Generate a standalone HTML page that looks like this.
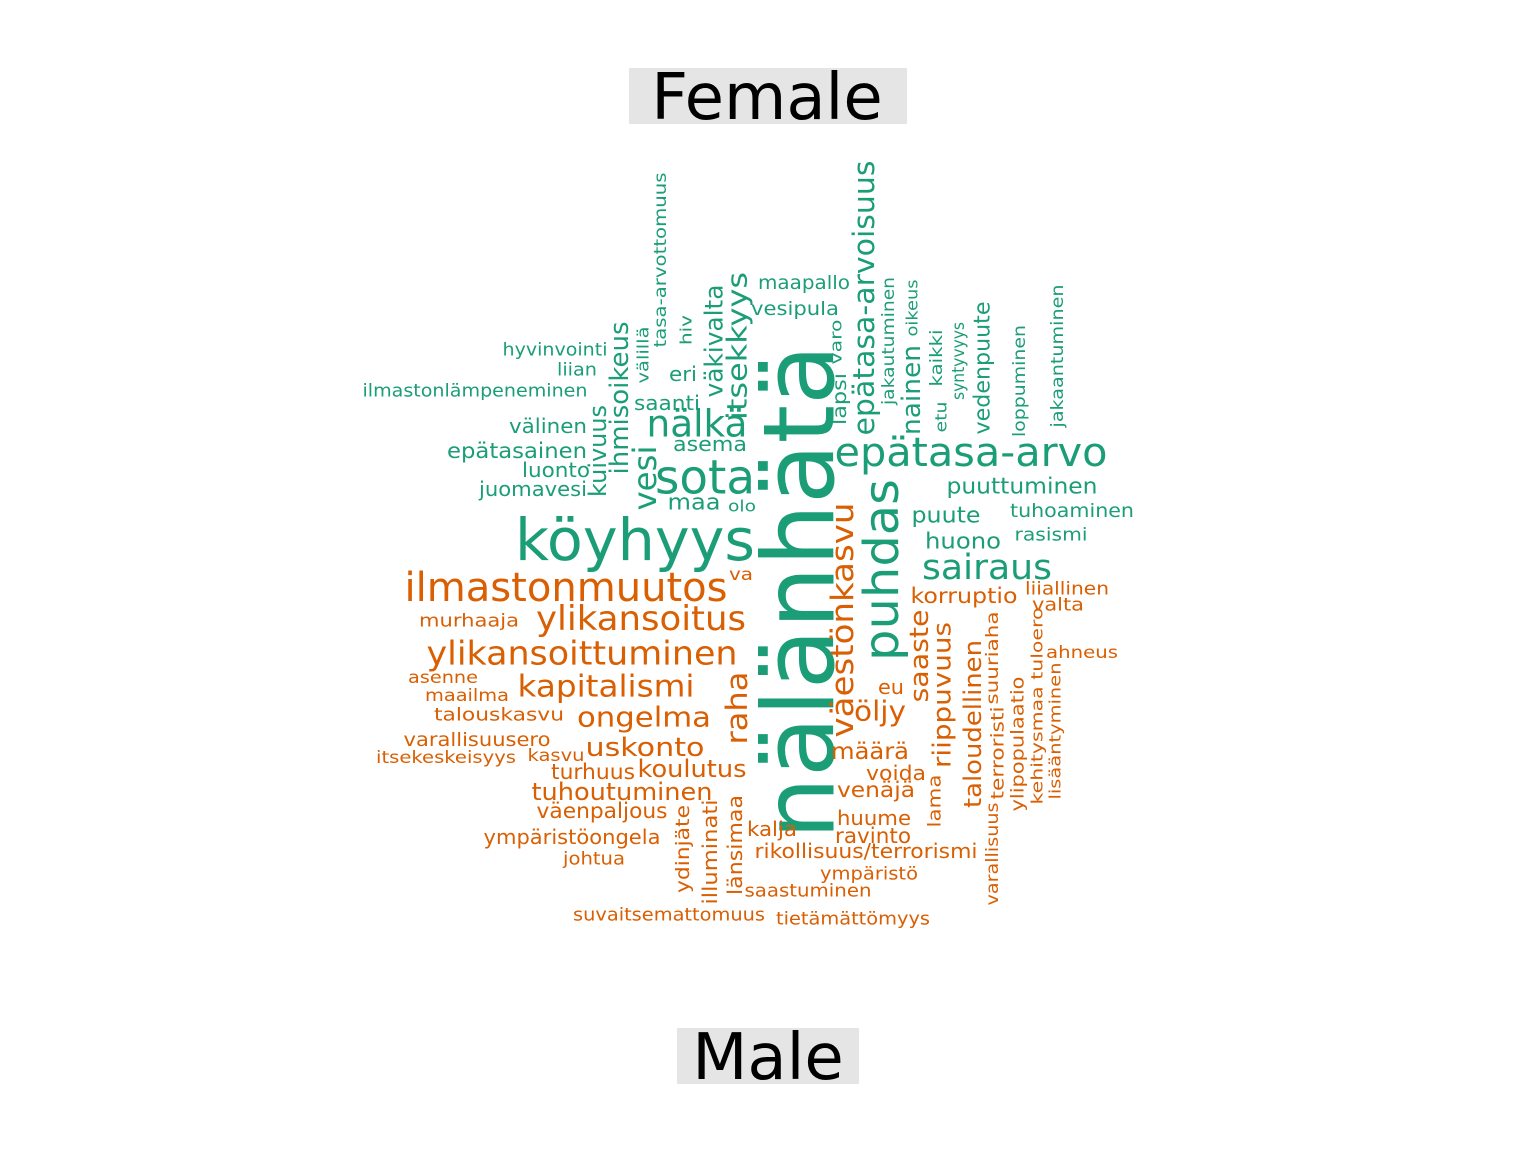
<!DOCTYPE html>
<html><head><meta charset="utf-8"><style>
html,body{margin:0;padding:0;background:#fff;}
svg{display:block;font-family:"DejaVu Sans","Liberation Sans",sans-serif;}
</style></head><body>
<svg id="cloud" width="1536" height="1152" viewBox="0 0 1536 1152" xmlns="http://www.w3.org/2000/svg">
<rect x="629" y="68" width="278" height="56" fill="#e5e5e5"/>
<text x="767" y="119" font-size="64" text-anchor="middle" fill="#000">Female</text>
<rect x="677" y="1028" width="182" height="56" fill="#e5e5e5"/>
<text x="768" y="1079" font-size="64" text-anchor="middle" fill="#000">Male</text>
<g id="words"></g>
</svg>
<script>
const colors = ["#1b9e77", "#d95f02"];
// word, group (0 female, 1 male)
const words = ["nälänhätä","köyhyys","sota","epätasa-arvo","puhdas","nälkä","sairaus","epätasa-arvoisuus","vesi","itsekkyys","ihmisoikeus","kuivuus","väkivalta","nainen","vedenpuute","puuttuminen","puute","huono","tuhoaminen","rasismi","maa","olo","asema","saanti","eri","välinen","epätasainen","luonto","juomavesi","ilmastonlämpeneminen","liian","hyvinvointi","maapallo","vesipula","tasa-arvottomuus","hiv","välillä","varo","lapsi","jakautuminen","oikeus","kaikki","etu","syntyvyys","loppuminen","jakaantuminen",
"ilmastonmuutos","ylikansoitus","ylikansoittuminen","kapitalismi","ongelma","uskonto","koulutus","turhuus","tuhoutuminen","väenpaljous","ympäristöongela","johtua","suvaitsemattomuus","tietämättömyys","saastuminen","ympäristö","rikollisuus/terrorismi","ravinto","huume","kalja","venäjä","voida","määrä","öljy","eu","väestönkasvu","raha","saaste","riippuvuus","taloudellinen","korruptio","liiallinen","valta","ahneus","suuriaha","terroristi","ylipopulaatio","varallisuus","kehitysmaa tuloero","lisääntyminen","lama","länsimaa","illuminati","ydinjäte","va","murhaaja","asenne","maailma","talouskasvu","varallisuusero","kasvu","itsekeskeisyys"];
const groups = [0,0,0,0,0,0,0,0,0,0,0,0,0,0,0,0,0,0,0,0,0,0,0,0,0,0,0,0,0,0,0,0,0,0,0,0,0,0,0,0,0,0,0,0,0,0,
1,1,1,1,1,1,1,1,1,1,1,1,1,1,1,1,1,1,1,1,1,1,1,1,1,1,1,1,1,1,1,1,1,1,1,1,1,1,1,1,1,1,1,1,1,1,1,1,1,1,1,1];
// relative word frequency (font size)
const sizes = [99,58,47,40,48,37,35,29,32,28,26,24,25,26,22,22,22,22,19,18,22,16,20,20,20,20,21,20,20,18,18,18,19,19,17,16,16,16,19,17,16,17,16,17,17,17,
40,34,33,30,28,26,24,21,24,21,20,18,18,18,18,18,20,21,20,20,21,20,23,28,20,31,29,26,25,24,21,18,18,17,17,18,18,17,16,16,18,20,20,19,17,18,17,17,18,19,17,17];
// layout: center x, center y, drawn length, vertical flag
const layoutX = [800,635,705,971,882,697,987,864,645,737,620,598,714,912,983,1022,946,963,1072,1051,694,742,710,667,683,548,517,556,533,475,577,555,804,795,661,686,643,836,840,889,912,937,941,959,1020,1058,
566,641,582,606,644,645,692,593,622,602,572,594,669,853,808,869,866,873,874,772,876,896,870,880,891,843,737,920,942,973,964,1067,1058,1082,993,998,1018,993,1037,1055,935,735,710,683,741,469,443,467,499,477,556,446];
const layoutY = [592,540,478,453,570,424,568,298,478,346,398,451,341,390,368,487,516,542,511,535,503,506,444,403,374,426,451,470,489,391,370,350,283,309,260,330,355,342,399,341,308,358,417,361,381,356,
588,619,653,687,717,748,769,772,792,811,837,859,915,919,891,874,851,836,818,829,790,773,752,711,687,620,708,656,695,724,596,589,605,653,658,753,744,854,706,731,801,845,852,849,575,621,678,696,715,740,756,758];
const lens = [495,240,100,273,182,101,130,275,65,148,153,92,113,90,133,151,69,76,124,73,53,28,74,66,28,78,140,68,108,225,40,105,92,88,175,30,57,45,52,128,57,57,31,78,112,143,
323,210,311,177,134,119,109,84,181,131,177,62,192,154,127,98,223,76,74,50,78,60,78,52,26,235,73,93,146,168,107,84,52,72,93,93,135,103,197,137,53,100,105,88,24,100,70,84,130,147,57,140];
const verts = [1,0,0,0,1,0,0,1,1,1,1,1,1,1,1,0,0,0,0,0,0,0,0,0,0,0,0,0,0,0,0,0,0,0,1,1,1,1,1,1,1,1,1,1,1,1,
0,0,0,0,0,0,0,0,0,0,0,0,0,0,0,0,0,0,0,0,0,0,0,0,0,1,1,1,1,1,0,0,0,0,1,1,1,1,1,1,1,1,1,1,0,0,0,0,0,0,0,0];
const NS = "http://www.w3.org/2000/svg";
const g = document.getElementById("words");
for (let i = 0; i < words.length; i++) {
  const t = document.createElementNS(NS, "text");
  
  
  t.setAttribute("x", layoutX[i]);
  t.setAttribute("y", layoutY[i]);
  t.setAttribute("font-size", sizes[i]);
  t.setAttribute("text-anchor", "middle");
  t.setAttribute("dominant-baseline", "central");
  t.setAttribute("fill", colors[groups[i]]);
  t.setAttribute("textLength", lens[i]);
  t.setAttribute("lengthAdjust", "spacingAndGlyphs");
  if (verts[i]) t.setAttribute("transform", "rotate(-90 " + layoutX[i] + " " + layoutY[i] + ")");
  t.textContent = words[i];
  g.appendChild(t);
}
</script>
</body></html>
